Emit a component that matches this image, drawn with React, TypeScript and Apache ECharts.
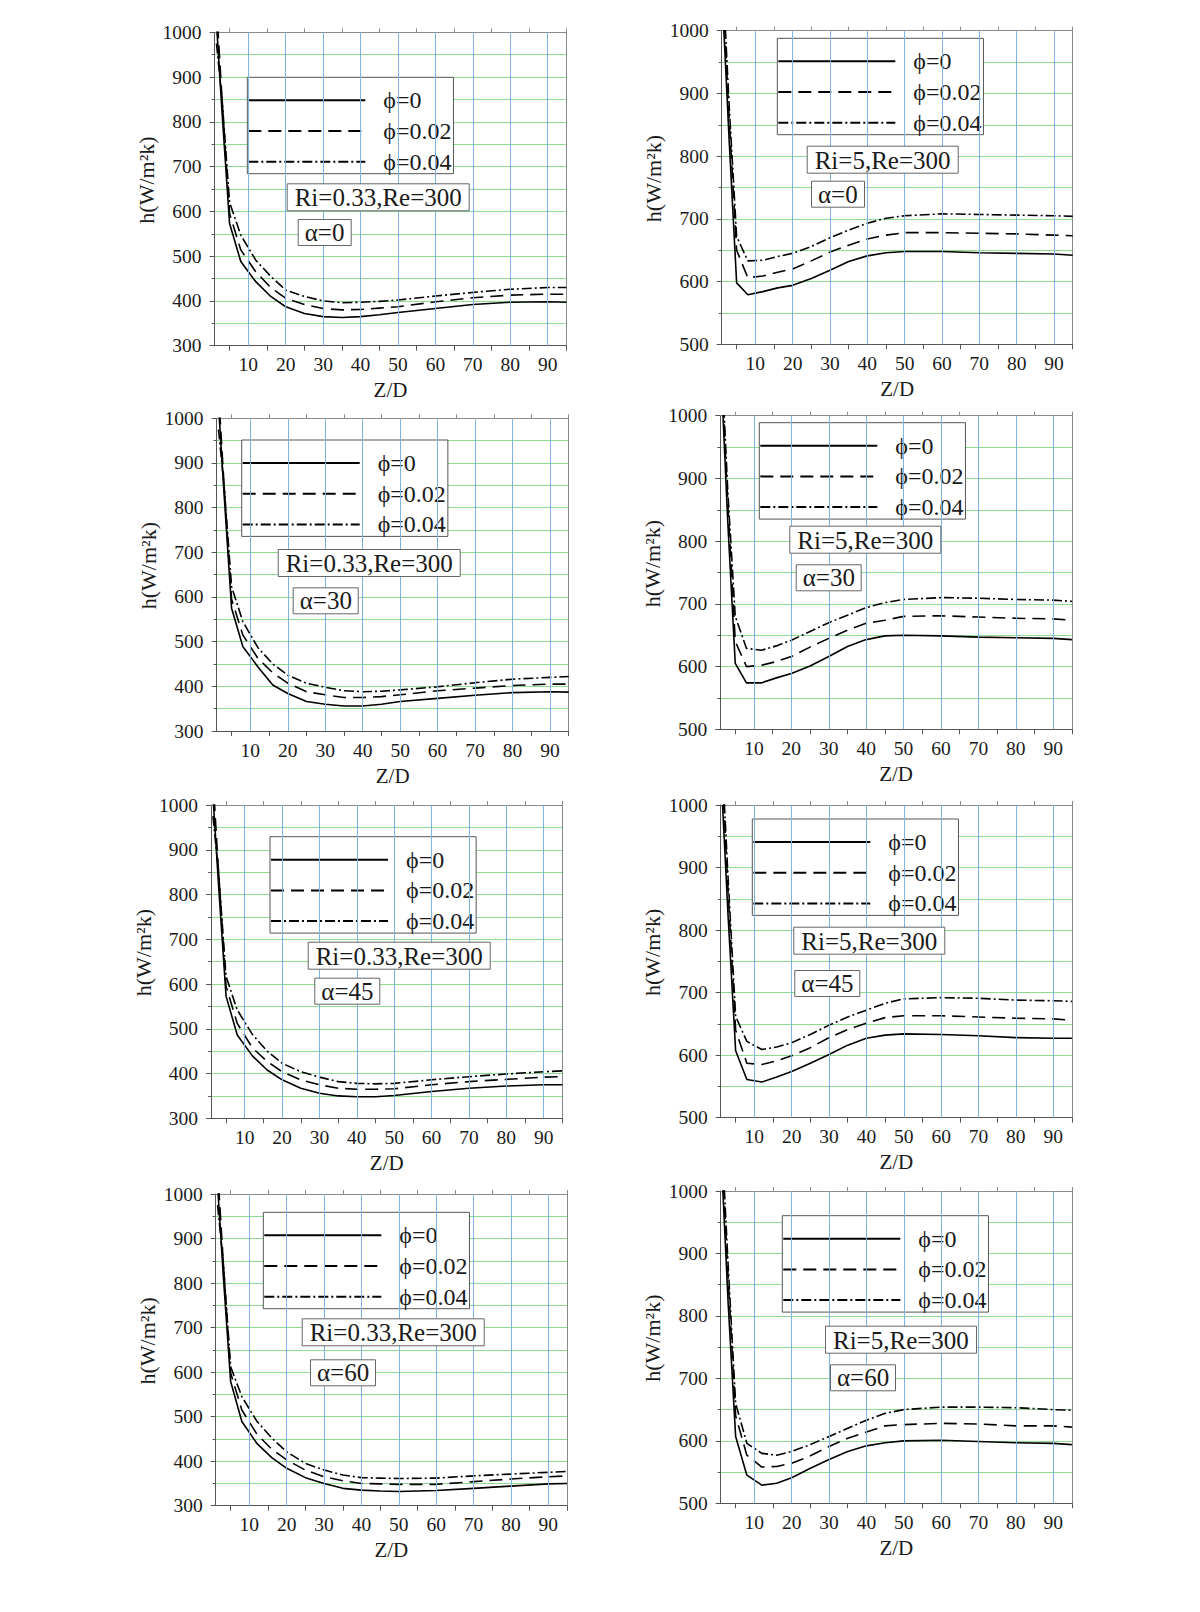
import React, { useEffect, useRef } from 'react';
import * as echarts from 'echarts';

// Z/D positions shared by all curves
const X = [1.5, 3, 5, 8, 12, 16, 20, 25, 30, 35, 40, 45, 50, 60, 70, 80, 90, 95];
const X_LABELS = [10, 20, 30, 40, 50, 60, 70, 80, 90];
const X_ODD_TICKS = [5, 15, 25, 35, 45, 55, 65, 75, 85, 95];
const PHI_NAMES = ['ϕ=0', 'ϕ=0.02', 'ϕ=0.04'];

// Ri=0.33, Re=300
const RI033_A0_PHI0 = [1020, 820, 573, 488, 443, 410, 387, 372, 365, 363, 365, 369, 374, 383, 392, 397, 398, 397];
const RI033_A0_PHI002 = [1060, 850, 595, 514, 465, 430, 406, 392, 383, 380, 381, 384, 387, 398, 407, 413, 415, 415];
const RI033_A0_PHI004 = [975, 850, 620, 547, 491, 455, 424, 410, 400, 396, 397, 399, 402, 411, 419, 426, 430, 430];

const RI033_A30_PHI0 = [1030, 830, 575, 489, 444, 403, 384, 366, 360, 356, 356, 360, 366, 373, 380, 386, 388, 387];
const RI033_A30_PHI002 = [1060, 850, 595, 515, 463, 430, 407, 388, 381, 375, 375, 377, 381, 390, 396, 402, 405, 405];
const RI033_A30_PHI004 = [975, 850, 623, 545, 487, 450, 425, 407, 398, 390, 388, 389, 392, 399, 408, 416, 420, 422];

const RI033_A45_PHI0 = [1020, 820, 573, 486, 440, 408, 386, 367, 356, 350, 348, 348, 351, 360, 367, 372, 375, 375];
const RI033_A45_PHI002 = [1060, 850, 595, 512, 458, 427, 404, 386, 375, 367, 365, 365, 366, 375, 382, 387, 392, 393];
const RI033_A45_PHI004 = [975, 850, 617, 542, 488, 450, 423, 404, 392, 382, 378, 377, 378, 386, 393, 399, 404, 406];

const RI033_A60_PHI0 = [1020, 820, 579, 489, 440, 408, 384, 363, 350, 339, 335, 333, 332, 334, 339, 344, 349, 350];
const RI033_A60_PHI002 = [1060, 850, 598, 515, 461, 427, 403, 380, 365, 356, 350, 349, 348, 348, 354, 360, 365, 367];
const RI033_A60_PHI004 = [975, 850, 612, 545, 490, 452, 421, 395, 380, 369, 363, 362, 361, 362, 367, 371, 375, 377];

// Ri=5, Re=300
const RI5_A0_PHI0 = [1010, 825, 598, 579, 584, 590, 594, 605, 618, 632, 641, 646, 648, 648, 646, 645, 644, 642];
const RI5_A0_PHI002 = [1040, 860, 650, 606, 609, 615, 620, 633, 647, 658, 668, 674, 678, 678, 677, 676, 674, 673];
const RI5_A0_PHI004 = [1060, 880, 672, 633, 634, 640, 645, 656, 670, 682, 693, 701, 705, 708, 707, 706, 705, 704];

const RI5_A30_PHI0 = [1030, 830, 605, 574, 574, 582, 589, 601, 616, 632, 643, 649, 650, 649, 647, 646, 645, 643];
const RI5_A30_PHI002 = [1050, 860, 640, 600, 602, 608, 616, 631, 645, 658, 669, 674, 680, 681, 679, 677, 676, 674];
const RI5_A30_PHI004 = [1070, 880, 680, 629, 626, 633, 642, 656, 670, 682, 694, 702, 707, 710, 709, 707, 706, 704];

const RI5_A45_PHI0 = [1000, 820, 607, 561, 557, 565, 574, 587, 601, 616, 627, 632, 634, 633, 631, 628, 627, 627];
const RI5_A45_PHI002 = [1040, 860, 640, 587, 585, 591, 599, 612, 628, 641, 651, 660, 663, 663, 661, 659, 658, 656];
const RI5_A45_PHI004 = [1060, 880, 662, 622, 609, 613, 620, 633, 648, 661, 672, 683, 690, 692, 691, 688, 687, 686];

const RI5_A60_PHI0 = [1010, 820, 607, 545, 529, 532, 541, 556, 570, 583, 592, 597, 600, 601, 599, 597, 596, 594];
const RI5_A60_PHI002 = [1040, 860, 640, 577, 558, 559, 564, 576, 591, 604, 614, 624, 626, 628, 627, 624, 624, 622];
const RI5_A60_PHI004 = [1060, 880, 660, 596, 580, 577, 583, 594, 607, 620, 633, 644, 650, 654, 654, 653, 650, 649];

const PANELS = [
  { ri: 'Ri=0.33,Re=300', alpha: 'α=0', yMin: 300, data: [RI033_A0_PHI0, RI033_A0_PHI002, RI033_A0_PHI004],
    grid: { left: 214.6, top: 32.3, width: 351.8, height: 313.4 }, legend: [247.3, 77.3], riBox: [286.7, 183.3], aBox: [297.7, 219] },
  { ri: 'Ri=5,Re=300', alpha: 'α=0', yMin: 500, data: [RI5_A0_PHI0, RI5_A0_PHI002, RI5_A0_PHI004],
    grid: { left: 721.7, top: 30.7, width: 351, height: 313.6 }, legend: [777.3, 38.3], riBox: [806.7, 145.7], aBox: [811, 180.7] },
  { ri: 'Ri=0.33,Re=300', alpha: 'α=30', yMin: 300, data: [RI033_A30_PHI0, RI033_A30_PHI002, RI033_A30_PHI004],
    grid: { left: 216.6, top: 418.3, width: 352.1, height: 312.7 }, legend: [241.7, 440], riBox: [277.7, 549], aBox: [292.7, 587.3] },
  { ri: 'Ri=5,Re=300', alpha: 'α=30', yMin: 500, data: [RI5_A30_PHI0, RI5_A30_PHI002, RI5_A30_PHI004],
    grid: { left: 720.3, top: 415.7, width: 351.6, height: 313.6 }, legend: [759.3, 422.7], riBox: [789.3, 525.7], aBox: [795.7, 564.3] },
  { ri: 'Ri=0.33,Re=300', alpha: 'α=45', yMin: 300, data: [RI033_A45_PHI0, RI033_A45_PHI002, RI033_A45_PHI004],
    grid: { left: 211.1, top: 805, width: 351.3, height: 313.3 }, legend: [270, 836.7], riBox: [307.7, 941.7], aBox: [314.3, 977.7] },
  { ri: 'Ri=5,Re=300', alpha: 'α=45', yMin: 500, data: [RI5_A45_PHI0, RI5_A45_PHI002, RI5_A45_PHI004],
    grid: { left: 720.7, top: 805, width: 351.2, height: 312.7 }, legend: [752.3, 819], riBox: [793.3, 926.7], aBox: [794.3, 970] },
  { ri: 'Ri=0.33,Re=300', alpha: 'α=60', yMin: 300, data: [RI033_A60_PHI0, RI033_A60_PHI002, RI033_A60_PHI004],
    grid: { left: 215.7, top: 1194, width: 351.3, height: 311.7 }, legend: [263.3, 1212.3], riBox: [301.7, 1318.3], aBox: [310, 1359.3] },
  { ri: 'Ri=5,Re=300', alpha: 'α=60', yMin: 500, data: [RI5_A60_PHI0, RI5_A60_PHI002, RI5_A60_PHI004],
    grid: { left: 720.7, top: 1191, width: 351.2, height: 312.3 }, legend: [782.3, 1215.7], riBox: [825, 1325.7], aBox: [830, 1364.3] },
];

const FONT = 'Liberation Serif';
const TXT = '#1a1a1a';
const DARK_AXIS = '#555';
const LIGHT_AXIS = '#8a8a8a';
const GREEN = '#8fdc8f';
const BLUE = '#7fb3e0';
const LINE_TYPES: any[] = ['solid', [13, 7], [10, 3, 2, 3]];

function buildOption() {
  const grid: any[] = [];
  const xAxis: any[] = [];
  const yAxis: any[] = [];
  const series: any[] = [];
  const legend: any[] = [];
  const title: any[] = [];

  PANELS.forEach((p, i) => {
    grid.push({ ...p.grid, containLabel: false });
    xAxis.push({
      type: 'value', gridIndex: i, position: 'bottom', min: 1, max: 95,
      name: 'Z/D', nameLocation: 'middle', nameGap: 34,
      nameTextStyle: { fontFamily: FONT, fontSize: 21, color: TXT },
      axisLine: { show: true, onZero: false, lineStyle: { color: DARK_AXIS, width: 1 } },
      axisTick: { show: true, inside: false, length: 5, customValues: X_ODD_TICKS, lineStyle: { color: DARK_AXIS } },
      axisLabel: { show: true, customValues: X_LABELS, margin: 9, fontFamily: FONT, fontSize: 19.5, color: TXT },
      splitLine: { show: false },
    });
    xAxis.push({
      type: 'value', gridIndex: i, position: 'top', min: 1, max: 95,
      axisLine: { show: true, onZero: false, lineStyle: { color: LIGHT_AXIS, width: 1 } },
      axisTick: { show: true, inside: false, length: 4, customValues: X_ODD_TICKS, lineStyle: { color: LIGHT_AXIS } },
      axisLabel: { show: false },
      splitLine: { show: false },
    });
    yAxis.push({
      type: 'value', gridIndex: i, position: 'left', min: p.yMin, max: 1000, interval: 100,
      name: 'h(W/m²k)', nameLocation: 'middle', nameGap: 57,
      nameTextStyle: { fontFamily: FONT, fontSize: 22, color: TXT, padding: [0, 0, 0, 18] },
      axisLine: { show: true, onZero: false, lineStyle: { color: DARK_AXIS, width: 1 } },
      axisTick: { show: true, inside: false, length: 5, lineStyle: { color: DARK_AXIS } },
      minorTick: { show: true, splitNumber: 2, length: 3, lineStyle: { color: DARK_AXIS } },
      axisLabel: { show: true, margin: 13, fontFamily: FONT, fontSize: 19.5, color: TXT, formatter: (v: number) => String(v) },
      splitLine: { show: true, lineStyle: { color: GREEN, width: 1 } },
      minorSplitLine: { show: true, lineStyle: { color: GREEN, width: 1 } },
    });
    yAxis.push({
      type: 'value', gridIndex: i, position: 'right', min: p.yMin, max: 1000, interval: 100,
      axisLine: { show: true, onZero: false, lineStyle: { color: LIGHT_AXIS, width: 1 } },
      axisTick: { show: false },
      axisLabel: { show: false },
      splitLine: { show: false },
    });

    // vertical blue grid lines at every 10 of Z/D
    series.push({
      type: 'line', xAxisIndex: 2 * i, yAxisIndex: 2 * i, data: [], z: 1, silent: true,
      symbol: 'none',
      markLine: {
        silent: true, symbol: ['none', 'none'], label: { show: false },
        lineStyle: { color: BLUE, width: 1, type: 'solid' },
        emphasis: { disabled: true },
        data: X_LABELS.map((v) => ({ xAxis: v })),
      },
    });

    p.data.forEach((vals, k) => {
      series.push({
        name: PHI_NAMES[k], type: 'line', xAxisIndex: 2 * i, yAxisIndex: 2 * i,
        data: X.map((x, j) => [x, vals[j]]),
        symbol: 'none', clip: true, z: 3, silent: true,
        lineStyle: { color: '#000', width: 1.6, type: LINE_TYPES[k] },
        itemStyle: { color: '#000' },
      });
    });

    legend.push({
      show: true, orient: 'vertical', left: p.legend[0], top: p.legend[1],
      data: PHI_NAMES, selectedMode: false,
      itemWidth: 117, itemHeight: 24, itemGap: 6.7,
      padding: [11, 2, 0, 0],
      backgroundColor: '#fff', borderColor: '#555', borderWidth: 1,
      itemStyle: { color: 'rgba(0,0,0,0)', borderWidth: 0, opacity: 0 },
      textStyle: { fontFamily: FONT, fontSize: 24, color: TXT, padding: [0, 0, 0, 13] },
    });

    title.push({
      text: p.ri, left: p.riBox[0], top: p.riBox[1],
      padding: [2, 8, 1, 8], backgroundColor: '#fff', borderColor: '#666', borderWidth: 1,
      textStyle: { fontFamily: FONT, fontSize: 25, fontWeight: 'normal', color: TXT, lineHeight: 25 },
    });
    title.push({
      text: p.alpha, left: p.aBox[0], top: p.aBox[1],
      padding: [1, 7, 1, 7], backgroundColor: '#fff', borderColor: '#666', borderWidth: 1,
      textStyle: { fontFamily: FONT, fontSize: 25, fontWeight: 'normal', color: TXT, lineHeight: 25 },
    });
  });

  return {
    animation: false,
    backgroundColor: '#fff',
    textStyle: { fontFamily: FONT },
    grid, xAxis, yAxis, series, legend, title,
  };
}

export default function App() {
  const ref = useRef<HTMLDivElement>(null);
  useEffect(() => {
    if (!ref.current) return;
    const chart = echarts.init(ref.current, undefined, { renderer: 'svg' });
    chart.setOption(buildOption() as any);
    return () => chart.dispose();
  }, []);
  return (
    <div
      ref={ref}
      style={{ position: 'absolute', left: 0, top: 0, width: 1200, height: 1612, background: '#fff' }}
    />
  );
}
